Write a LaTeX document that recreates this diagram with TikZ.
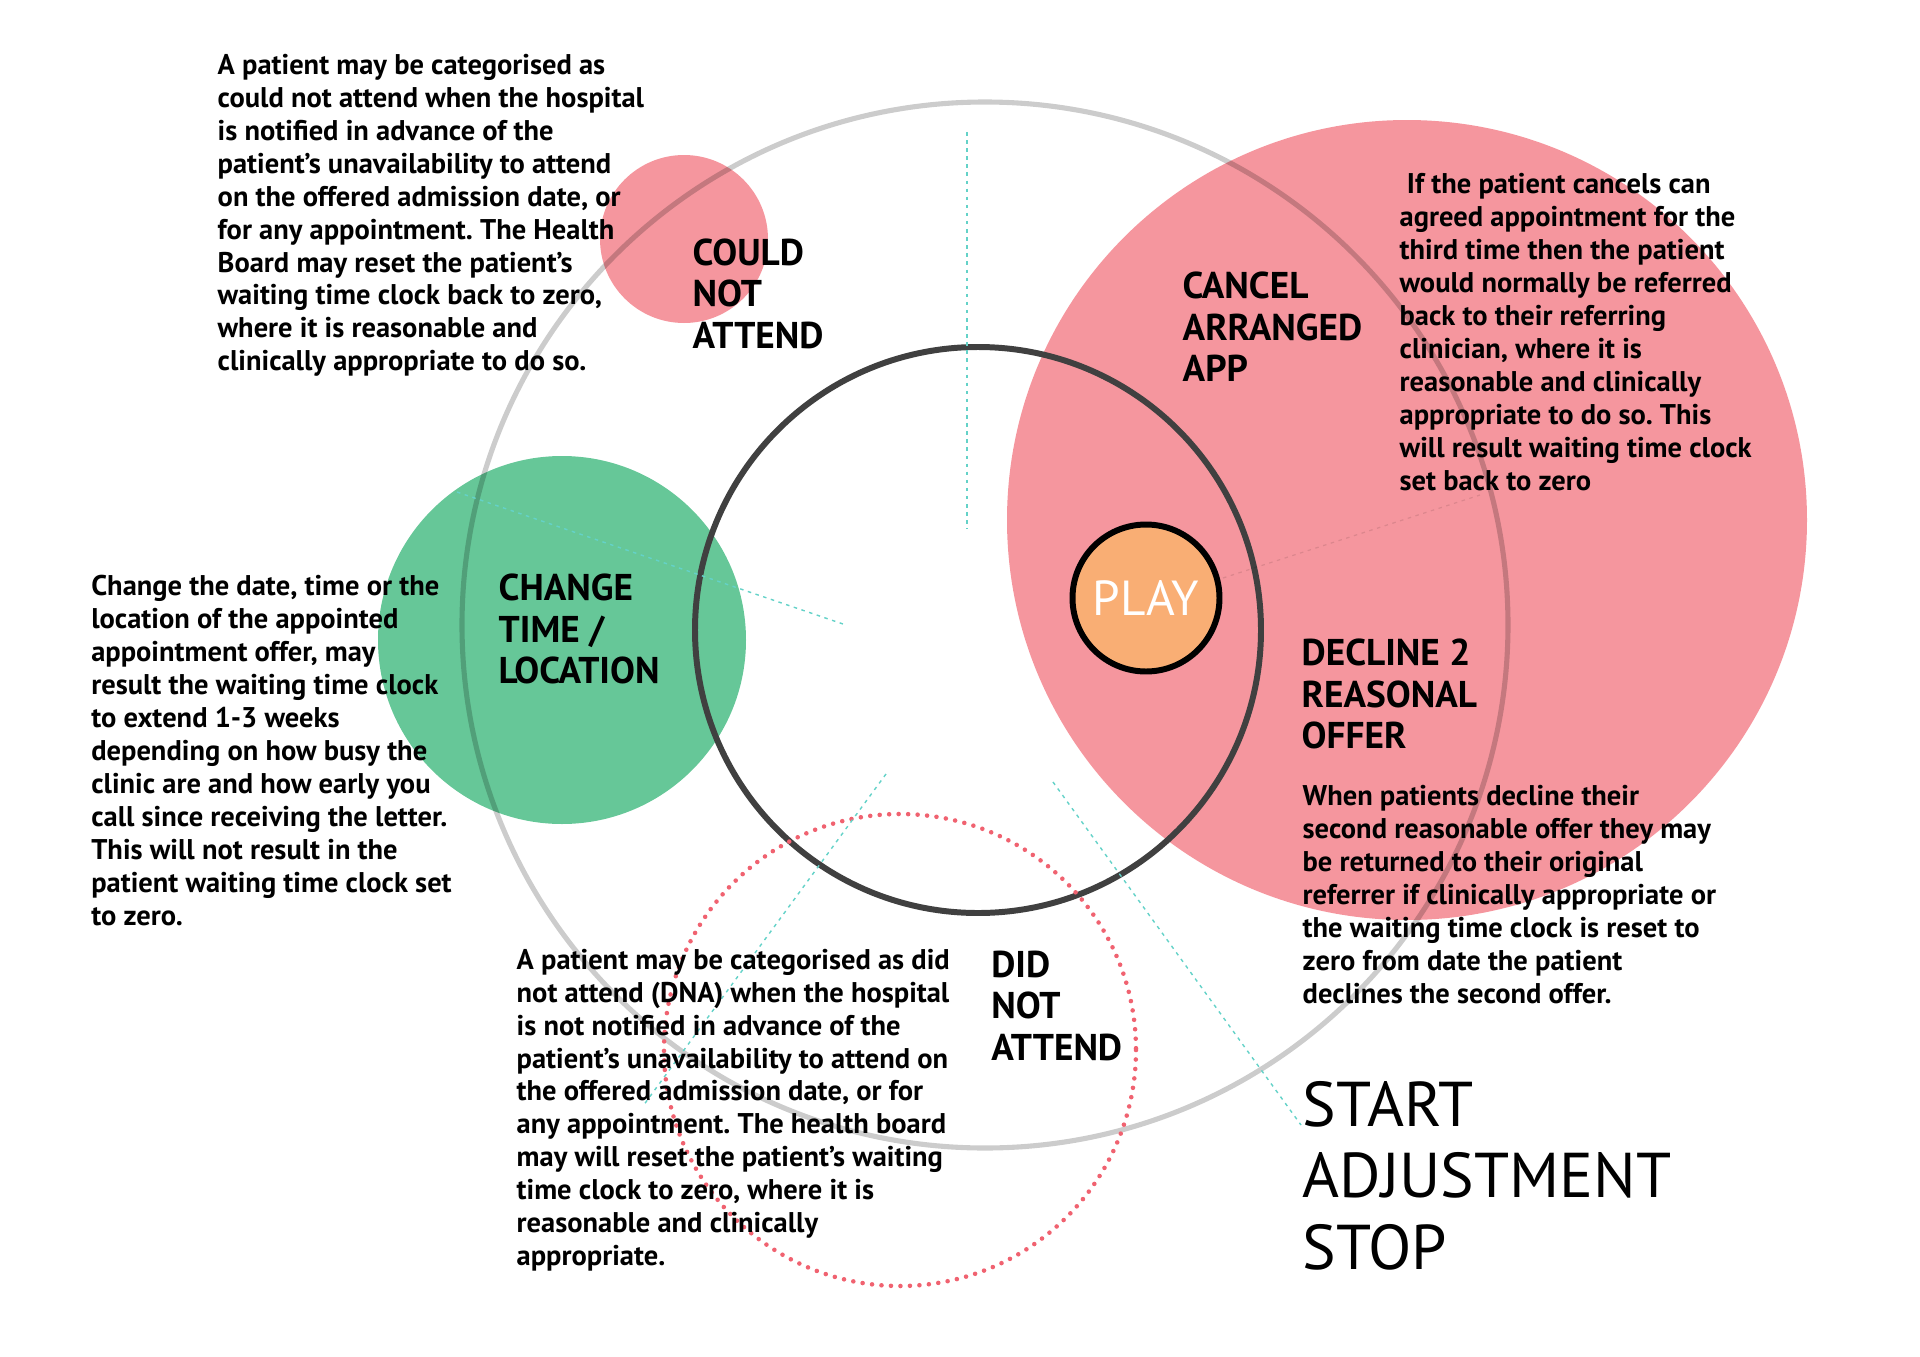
\documentclass[tikz,border=0pt]{standalone}
\usepackage{fontspec}
\setmainfont{PT Sans}
\usepackage{xcolor}
\usetikzlibrary{positioning}
\frenchspacing

\definecolor{pinkfill}{RGB}{245,150,158}
\definecolor{greenfill}{RGB}{102,199,152}
\definecolor{playfill}{RGB}{249,174,116}
\definecolor{ringdark}{RGB}{64,64,64}
\definecolor{dotred}{RGB}{240,98,112}
\definecolor{guidecyan}{RGB}{100,210,200}

\begin{document}
\begin{tikzpicture}[x=0.01cm,y=-0.01cm,
    note/.style={anchor=base west, align=left, inner sep=0pt,
        font=\bfseries\fontsize{8.1}{9.36}\selectfont},
    heading/.style={anchor=base west, align=left, inner sep=0pt,
        font=\bfseries\fontsize{10.6}{11.8}\selectfont},
    guide/.style={draw=guidecyan, line width=0.4pt, dash pattern=on 1pt off 1.3pt}]
    \useasboundingbox (0,0) rectangle (1920,1357);

    % Define the circle centres
    \coordinate (Outer) at (985,625);
    \coordinate (Inner) at (978,630);
    \coordinate (Cancel) at (1407,520);
    \coordinate (Could) at (684,239);
    \coordinate (Change) at (562,640);
    \coordinate (Play) at (1146,598);
    \coordinate (Dna) at (900,1050);

    % Filled circles
    \fill[pinkfill] (Cancel) circle (400);
    \fill[pinkfill] (Could) circle (84);
    \fill[greenfill] (Change) circle (184);

    % Rings
    \draw[black, opacity=0.2, line width=1.45pt] (Outer) circle (523);
    \draw[ringdark, line width=1.7pt] (Inner) circle (283);
    \draw[dotred, line width=1.3pt, line cap=round, dash pattern=on 0pt off 2.7pt] (Dna) circle (236);

    % Guide lines
    \coordinate (G1a) at (967,132);   \coordinate (G1b) at (967,529);
    \coordinate (G2a) at (457,492);   \coordinate (G2b) at (843,624);
    \coordinate (G3a) at (886,774);   \coordinate (G3b) at (643,1106);
    \coordinate (G4a) at (1053,782);  \coordinate (G4b) at (1301,1125);
    \coordinate (G5a) at (1223,578);  \coordinate (G5b) at (1480,495);
    \draw[guide] (G1a) -- (G1b);
    \draw[guide] (G2a) -- (G2b);
    \draw[guide] (G3a) -- (G3b);
    \draw[guide] (G4a) -- (G4b);
    \draw[black, opacity=0.1, line width=0.35pt, dash pattern=on 1pt off 1.3pt] (G5a) -- (G5b);

    % PLAY
    \draw[black, fill=playfill, line width=1.7pt] (Play) circle (73.5);
    \node[white, font=\fontsize{14}{15}\selectfont] (play) at (Play) {PLAY};

    % Headings (anchored at the last baseline)
    \node[heading] (couldhead) at (692,348) {COULD\\NOT\\ATTEND};
    \node[heading] (cancelhead) at (1182,381.6) {CANCEL\\ARRANGED\\APP};
    \node[heading] (changehead) at (498,683.6) {CHANGE\\TIME /\\LOCATION};
    \node[heading] (declinehead) at (1301,748.5) {DECLINE 2\\REASONAL\\OFFER};
    \node[heading] (dnahead) at (990.6,1060) {DID\\NOT\\ATTEND};
    \node[anchor=base west, align=left, inner sep=0pt,
        font=\fontsize{18}{20.2}\selectfont] (startstop) at (1302,1269) {START\\ADJUSTMENT\\STOP};

    % Notes
    \node[note] (couldnote) at (217,370.8) {A patient may be categorised as\\
        could not attend when the hospital\\
        is notified in advance of the\\
        patient's unavailability to attend\\
        on the offered admission date, or\\
        for any appointment. The Health\\
        Board may reset the patient's\\
        waiting time clock back to zero,\\
        where it is reasonable and\\
        clinically appropriate to do so.};
    \node[note] (cancelnote) at (1399,490) {\ If the patient cancels can\\
        agreed appointment for the\\
        third time then the patient\\
        would normally be referred\\
        back to their referring\\
        clinician, where it is\\
        reasonable and clinically\\
        appropriate to do so. This\\
        will result waiting time clock\\
        set back to zero};
    \node[note] (changenote) at (90.6,925) {Change the date, time or the\\
        location of the appointed\\
        appointment offer, may\\
        result the waiting time clock\\
        to extend 1-3 weeks\\
        depending on how busy the\\
        clinic are and how early you\\
        call since receiving the letter.\\
        This will not result in the\\
        patient waiting time clock set\\
        to zero.};
    \node[note] (dnanote) at (516,1265.5) {A patient may be categorised as did\\
        not attend (DNA) when the hospital\\
        is not notified in advance of the\\
        patient's unavailability to attend on\\
        the offered admission date, or for\\
        any appointment. The health board\\
        may will reset the patient's waiting\\
        time clock to zero, where it is\\
        reasonable and clinically\\
        appropriate.};
    \node[note] (declinenote) at (1302,1003) {When patients decline their\\
        second reasonable offer they may\\
        be returned to their original\\
        referrer if clinically appropriate or\\
        the waiting time clock is reset to\\
        zero from date the patient\\
        declines the second offer.};
\end{tikzpicture}
\end{document}
